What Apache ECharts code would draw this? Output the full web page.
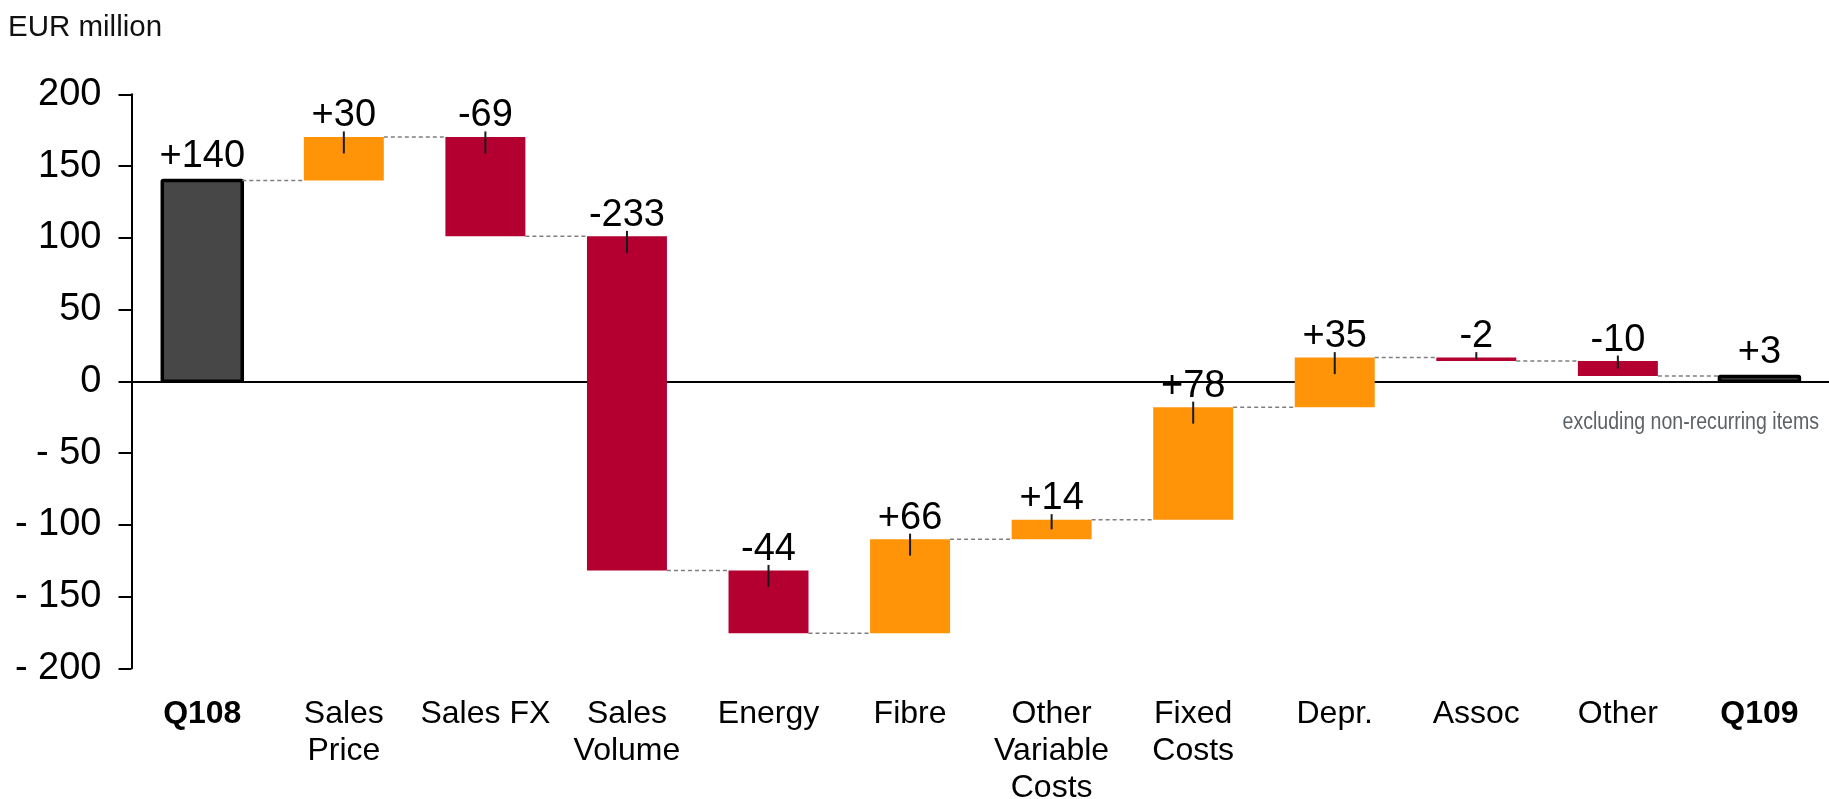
<!DOCTYPE html>
<html>
<head>
<meta charset="utf-8">
<script src="https://cdn.jsdelivr.net/npm/echarts@6/dist/echarts.min.js"></script>
<style>
html,body{margin:0;padding:0;background:#fff;}
#chart{width:1829px;height:799px;}
</style>
</head>
<body>
<div id="chart"></div>
<script>
// ---- data ----
const categories = ['Q108', 'Sales\nPrice', 'Sales FX', 'Sales\nVolume', 'Energy', 'Fibre',
  'Other\nVariable\nCosts', 'Fixed\nCosts', 'Depr.', 'Assoc', 'Other', 'Q109'];
const changes = [140, 30.3, -69.3, -232.8, -43.7, 65.5, 13.6, 78.4, 34.5, -2.4, -10.4, 3.4];
const isTotal = [true, false, false, false, false, false, false, false, false, false, false, true];
const yMin = -200, yMax = 200, yStep = 50;
const unitText = 'EUR million';
const noteText = 'excluding non-recurring items';

// ---- styles ----
const FONT = "'Liberation Sans', Arial, sans-serif";
const COLOR_UP = '#FF9408';
const COLOR_DOWN = '#B30031';
const COLOR_TOTAL = '#474747';

// build waterfall rows [index, start, end, kind, change]
const rows = [];
let level = 0;
changes.forEach((v, i) => {
  let s, e, kind;
  if (isTotal[i]) { s = 0; e = v; kind = 0; level = v; }
  else { s = level; e = level + v; kind = v >= 0 ? 1 : 2; level = e; }
  rows.push([i, s, e, kind, v]);
});

function fmtLabel(v) {
  const r = Math.round(v);
  return (r >= 0 ? '+' : '') + r;
}

const chart = echarts.init(document.getElementById('chart'));

const option = {
  animation: false,
  backgroundColor: '#fff',
  title: {
    text: unitText, left: 8, top: 13, padding: 0,
    textStyle: { fontSize: 29.5, fontWeight: 'normal', color: '#111', fontFamily: FONT }
  },
  grid: { left: 131.5, top: 94.3, width: 1698.7, height: 574, containLabel: false, outerBoundsMode: 'none' },
  xAxis: [
    {
      type: 'category', data: categories,
      axisLine: { show: false, onZero: false },
      axisTick: { show: false },
      axisLabel: {
        interval: 0, margin: 27, color: '#000', fontSize: 32, lineHeight: 37, fontFamily: FONT,
        verticalAlign: 'top', hideOverlap: false,
        formatter: (v, idx) => isTotal[idx] ? '{b|' + v + '}' : v,
        rich: { b: { fontWeight: 'bold', fontSize: 32, lineHeight: 37, fontFamily: FONT, color: '#000' } }
      },
      splitLine: { show: false }
    },
    {
      type: 'category', data: categories, position: 'bottom',
      axisLine: { show: true, onZero: true, lineStyle: { color: '#000', width: 2 } },
      axisTick: { show: false }, axisLabel: { show: false }, splitLine: { show: false }
    }
  ],
  yAxis: {
    type: 'value', min: yMin, max: yMax, interval: yStep,
    axisLine: { show: true, lineStyle: { color: '#000', width: 2 } },
    axisTick: { show: true, length: 13, lineStyle: { color: '#000', width: 2 } },
    axisLabel: {
      margin: 30, color: '#000', fontSize: 38, fontFamily: FONT,
      formatter: v => v < 0 ? '- ' + Math.abs(v) : String(v)
    },
    splitLine: { show: false }
  },
  graphic: [
    {
      type: 'text', x: 1819, y: 423, scaleX: 0.85,
      style: { text: noteText, x: 0, y: 0, align: 'right', verticalAlign: 'middle',
        fontSize: 23, fontFamily: FONT, fill: '#5d6266' }
    }
  ],
  series: [
    {
      type: 'custom',
      xAxisIndex: 0,
      data: rows,
      encode: { x: 0, y: [1, 2] },
      renderItem: function (params, api) {
        const i = api.value(0), s = api.value(1), e = api.value(2), kind = api.value(3), v = api.value(4);
        const pS = api.coord([i, s]);
        const pE = api.coord([i, e]);
        const band = api.size([1, 0])[0];
        const bw = band * 0.565;
        const cx = pS[0];
        const x0 = cx - bw / 2;
        const top = Math.min(pS[1], pE[1]);
        const bot = Math.max(pS[1], pE[1]);
        const h = bot - top;
        const children = [];
        if (kind === 0) {
          children.push({ type: 'rect', shape: { x: x0, y: top, width: bw, height: h, r: 1 },
            style: { fill: COLOR_TOTAL, stroke: '#000', lineWidth: 3.5 } });
        } else {
          children.push({ type: 'rect', shape: { x: x0, y: top, width: bw, height: h },
            style: { fill: kind === 1 ? COLOR_UP : COLOR_DOWN } });
          const below = Math.min(16.5, h / 2);
          children.push({ type: 'line', shape: { x1: cx, y1: top - 5.5, x2: cx, y2: top + below },
            style: { stroke: '#1a1a1a', lineWidth: 2 } });
        }
        // connector to next bar
        if (i < categories.length - 1) {
          children.push({ type: 'line', shape: { x1: x0 + bw, y1: pE[1], x2: x0 + band, y2: pE[1] },
            style: { stroke: '#7f7f7f', lineWidth: 1.5, lineDash: [4, 3] } });
        }
        children.push({ type: 'text', style: {
          text: fmtLabel(v), x: cx, y: top - (kind === 0 ? 24 : 21), align: 'center', verticalAlign: 'middle',
          fontSize: 38, fontFamily: FONT, fill: '#000' } });
        return { type: 'group', children: children };
      },
      z: 3
    }
  ]
};
chart.setOption(option);
</script>
</body>
</html>
